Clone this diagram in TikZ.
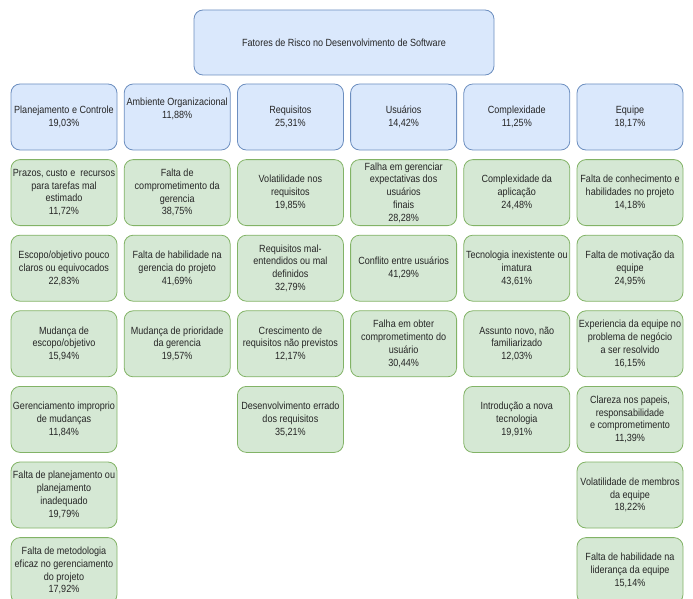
\documentclass[tikz,border=0pt]{standalone}
\usepackage{fontspec}
\setmainfont{Liberation Sans}[FakeStretch=0.87]
\usepackage{tikz}
\usetikzlibrary{positioning}

\definecolor{azulfill}{HTML}{DAE8FC}
\definecolor{azulline}{HTML}{6C8EBF}
\definecolor{verdefill}{HTML}{D5E8D4}
\definecolor{verdeline}{HTML}{82B366}

\begin{document}
\begin{tikzpicture}[node distance=75.6pt,
		fator/.style={draw=azulline, fill=azulfill, rounded corners=9pt, line width=0.8pt,
			minimum width=106pt, minimum height=66pt, inner sep=1pt, align=center,
			text=black!85, font=\fontsize{10.4}{12.8}\selectfont},
		risco/.style={fator, draw=verdeline, fill=verdefill}]

		\useasboundingbox (0pt,0pt) rectangle (693pt,-599pt);
		\clip (0pt,0pt) rectangle (693pt,-599pt);

		\node[fator, minimum width=300pt, minimum height=65pt] (FR) at (344pt,-42.5pt)
			{Fatores de Risco no Desenvolvimento de Software};

		% categorias
		\node[fator] (PC) at (64pt,-117pt) {Planejamento e Controle\\19,03\%};
		\node[fator] (AO) [right of=PC, node distance=113.2pt] {Ambiente Organizacional\\11,88\%\\[4pt]};
		\node[fator] (RQ) [right of=AO, node distance=113.2pt] {Requisitos\\25,31\%};
		\node[fator] (US) [right of=RQ, node distance=113.2pt] {Usuários\\14,42\%};
		\node[fator] (CX) [right of=US, node distance=113.2pt] {Complexidade\\11,25\%};
		\node[fator] (EQ) [right of=CX, node distance=113.2pt] {Equipe\\18,17\%};

		% Planejamento e Controle
		\node[risco] (PC1) [below of=PC] {Prazos, custo e \ recursos\\para tarefas mal\\estimado\\11,72\%};
		\node[risco] (PC2) [below of=PC1] {Escopo/objetivo pouco\\claros ou equivocados\\22,83\%};
		\node[risco] (PC3) [below of=PC2] {Mudança de\\escopo/objetivo\\15,94\%};
		\node[risco] (PC4) [below of=PC3] {Gerenciamento improprio\\de mudanças\\11,84\%};
		\node[risco] (PC5) [below of=PC4] {Falta de planejamento ou\\planejamento\\inadequado\\19,79\%};
		\node[risco] (PC6) [below of=PC5] {Falta de metodologia\\eficaz no gerenciamento\\do projeto\\17,92\%};

		% Ambiente Organizacional
		\node[risco] (AO1) [below of=AO] {Falta de\\comprometimento da\\gerencia\\38,75\%};
		\node[risco] (AO2) [below of=AO1] {Falta de habilidade na\\gerencia do projeto\\41,69\%};
		\node[risco] (AO3) [below of=AO2] {Mudança de prioridade\\da gerencia\\19,57\%};

		% Requisitos
		\node[risco] (RQ1) [below of=RQ] {Volatilidade nos\\requisitos\\19,85\%};
		\node[risco] (RQ2) [below of=RQ1] {Requisitos mal-\\entendidos ou mal\\definidos\\32,79\%};
		\node[risco] (RQ3) [below of=RQ2] {Crescimento de\\requisitos não previstos\\12,17\%};
		\node[risco] (RQ4) [below of=RQ3] {Desenvolvimento errado\\dos requisitos\\35,21\%};

		% Usuarios
		\node[risco] (US1) [below of=US] {Falha em gerenciar\\expectativas dos\\usuários\\finais\\28,28\%};
		\node[risco] (US2) [below of=US1] {Conflito entre usuários\\41,29\%};
		\node[risco] (US3) [below of=US2] {Falha em obter\\comprometimento do\\usuário\\30,44\%};

		% Complexidade
		\node[risco] (CX1) [below of=CX] {Complexidade da\\aplicação\\24,48\%};
		\node[risco] (CX2) [below of=CX1] {Tecnologia inexistente ou\\imatura\\43,61\%};
		\node[risco] (CX3) [below of=CX2] {Assunto novo, não\\familiarizado\\12,03\%};
		\node[risco] (CX4) [below of=CX3] {Introdução a nova\\tecnologia\\19,91\%};

		% Equipe
		\node[risco] (EQ1) [below of=EQ] {Falta de conhecimento e\\habilidades no projeto\\14,18\%};
		\node[risco] (EQ2) [below of=EQ1] {Falta de motivação da\\equipe\\24,95\%};
		\node[risco] (EQ3) [below of=EQ2] {Experiencia da equipe no\\problema de negócio\\a ser resolvido\\16,15\%};
		\node[risco] (EQ4) [below of=EQ3] {Clareza nos papeis,\\responsabilidade\\e comprometimento\\11,39\%};
		\node[risco] (EQ5) [below of=EQ4] {Volatilidade de membros\\da equipe\\18,22\%};
		\node[risco] (EQ6) [below of=EQ5] {Falta de habilidade na\\liderança da equipe\\15,14\%};
	\end{tikzpicture}
\end{document}
